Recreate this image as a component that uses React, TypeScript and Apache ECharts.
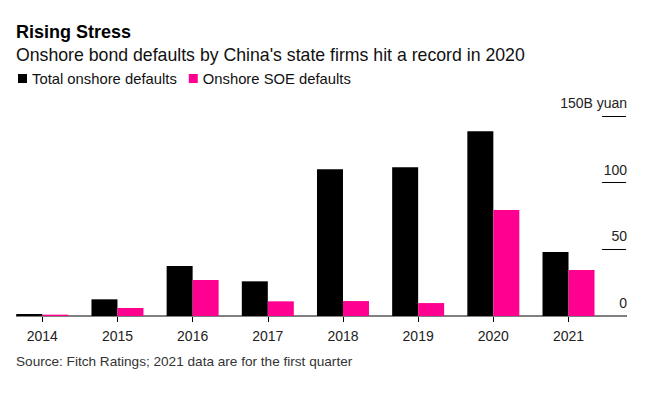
import React, { useEffect, useRef } from "react";
import * as echarts from "echarts";

const years = ["2014", "2015", "2016", "2017", "2018", "2019", "2020", "2021"];
const totalDefaults = [1.5, 12.5, 37.5, 26, 110, 111.5, 138.5, 48];
const soeDefaults = [1.0, 6, 27, 11, 11.2, 9.7, 79.5, 34.5];
const yTicks = [0, 50, 100, 150];
const seriesNames = ["Total onshore defaults", "Onshore SOE defaults"];

const FONT = "'Liberation Sans', Arial, sans-serif";

export default function App() {
  const ref = useRef<HTMLDivElement>(null);
  useEffect(() => {
    if (!ref.current) return;
    const chart = echarts.init(ref.current, undefined, { renderer: "svg" });
    chart.setOption({
      animation: false,
      backgroundColor: "#ffffff",
      textStyle: { fontFamily: FONT },
      title: [
        {
          text: "Rising Stress",
          left: 16,
          top: 23,
          padding: 0,
          textStyle: { fontSize: 18, fontWeight: "bold", color: "#000", fontFamily: FONT },
        },
        {
          text: "Onshore bond defaults by China's state firms hit a record in 2020",
          left: 16,
          top: 46,
          padding: 0,
          textStyle: { fontSize: 17.7, fontWeight: "normal", color: "#111", fontFamily: FONT },
        },
        {
          text: "Source: Fitch Ratings; 2021 data are for the first quarter",
          left: 16,
          top: 354,
          padding: 0,
          textStyle: { fontSize: 13.6, fontWeight: "normal", color: "#333", fontFamily: FONT },
        },
      ],
      legend: {
        data: seriesNames,
        left: 18,
        top: 71,
        padding: 0,
        icon: "rect",
        itemWidth: 9,
        itemHeight: 9,
        itemGap: 12,
        textStyle: { fontSize: 14.8, color: "#111", fontFamily: FONT },
      },
      grid: { left: 4.7, right: 50.9, top: 116, bottom: 77 },
      xAxis: {
        type: "category",
        data: years,
        axisLine: { show: false },
        axisTick: { show: true, alignWithLabel: true, length: 6, lineStyle: { color: "#000", width: 1 } },
        axisLabel: { fontSize: 14, color: "#222", margin: 13, fontFamily: FONT },
      },
      yAxis: {
        type: "value",
        position: "right",
        offset: -4,
        min: 0,
        max: 150,
        interval: 50,
        axisLine: { show: false },
        splitLine: { show: false },
        axisTick: { show: true, inside: false, length: 24, lineStyle: { color: "#000", width: 1 } },
        axisLabel: {
          margin: 25,
          align: "right",
          verticalAlign: "bottom",
          padding: [0, 0, 6, 0],
          fontSize: 14,
          color: "#222",
          fontFamily: FONT,
          formatter: (v: number) => (v === yTicks[yTicks.length - 1] ? v + "B yuan" : String(v)),
        },
      },
      graphic: [
        {
          type: "line",
          z: 1,
          shape: { x1: 16, y1: 316, x2: 627, y2: 316 },
          style: { stroke: "#808080", lineWidth: 2 },
        },
      ],
      series: [
        {
          name: seriesNames[0],
          type: "bar",
          data: totalDefaults,
          barWidth: 26,
          barGap: "0%",
          itemStyle: { color: "#000000" },
          z: 3,
        },
        {
          name: seriesNames[1],
          type: "bar",
          data: soeDefaults,
          barWidth: 26,
          barGap: "0%",
          itemStyle: { color: "#ff0090" },
          z: 3,
        },
      ],
    });
    return () => chart.dispose();
  }, []);
  return (
    <div
      ref={ref}
      style={{ position: "fixed", left: 0, top: 0, width: 657, height: 393 }}
    />
  );
}
